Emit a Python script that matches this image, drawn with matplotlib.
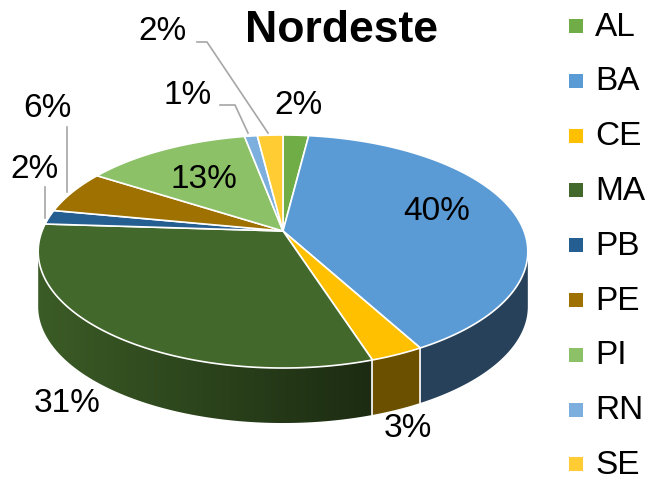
import numpy as np
import matplotlib
matplotlib.use("Agg")
import matplotlib.pyplot as plt
from matplotlib.patches import Polygon, Rectangle
from matplotlib.colors import to_rgb

# ---- data ----
categories = ["AL", "BA", "CE", "MA", "PB", "PE", "PI", "RN", "SE"]
values = [2, 40, 3, 31, 2, 6, 13, 1, 2]
colors = ["#70ad47", "#5b9bd5", "#ffc000", "#43682b", "#255e91",
          "#9e7100", "#8cc168", "#7cafdd", "#ffcd33"]
title = "Nordeste"

plt.rcParams['font.family'] = ['Liberation Sans', 'DejaVu Sans']

fig = plt.figure(figsize=(6.5, 4.86), dpi=100)
ax = fig.add_axes([0, 0, 1, 1])
ax.set_xlim(0, 650)
ax.set_ylim(486, 0)
ax.axis('off')

# ---- 3D pie geometry (perspective projection of a disk) ----
cx, cy = 283, 231
A, B, k = 241, 112.9, 0.176
D = 55

def proj(theta_deg):
    t = np.radians(theta_deg)
    u, v = np.sin(t), np.cos(t)
    w = 1 + k * v
    return cx + A * u / w, cy - B * v / w

vals = np.array(values, dtype=float)
cum = np.concatenate([[0], np.cumsum(vals)]) / vals.sum() * 360.0
vis_lo = np.degrees(np.arccos(-k))
vis_hi = 360 - vis_lo

def shade(x):
    return np.interp(x, [40, 370], [0.88, 0.42])

# sides with horizontal gradient
for i, c in enumerate(colors):
    a0, a1 = max(cum[i], vis_lo), min(cum[i + 1], vis_hi)
    if a1 <= a0:
        continue
    ts = np.linspace(a0, a1, max(3, int((a1 - a0) * 3)))
    top = [proj(t) for t in ts]
    bot = [(x, y + D) for x, y in top[::-1]]
    poly = Polygon(top + bot, closed=True, facecolor="none", edgecolor="none")
    ax.add_patch(poly)
    xs = np.array([p[0] for p in top])
    ys = np.array([p[1] for p in top])
    x_lo, x_hi = xs.min() - 2, xs.max() + 2
    y_lo, y_hi = ys.min() - 2, ys.max() + D + 2
    gx = np.linspace(x_lo, x_hi, 200)
    base = np.array(to_rgb(c))
    img = (shade(gx)[:, None] * base[None, :])[None, :, :]
    im = ax.imshow(img, extent=(x_lo, x_hi, y_hi, y_lo), aspect="auto",
                   interpolation="bilinear", zorder=1)
    im.set_clip_path(poly)
ax.set_xlim(0, 650)
ax.set_ylim(486, 0)

# side boundaries
for a in cum:
    if vis_lo < a < vis_hi:
        x, y = proj(a)
        ax.plot([x, x], [y, y + D], color="white", lw=1.2, zorder=2)

# top faces
for i, c in enumerate(colors):
    ts = np.linspace(cum[i], cum[i + 1], max(3, int((cum[i + 1] - cum[i]) * 2)))
    pts = [(cx, cy)] + [proj(t) for t in ts]
    ax.add_patch(Polygon(pts, closed=True, facecolor=c, edgecolor="white",
                         lw=1.2, zorder=3))

# ---- data labels ----
label_pos = [(299, 105), (437, 211), (408, 428), (67, 403), (35, 169),
             (47, 108), (204, 179), (188, 95), (163, 32)]
for v, (x, y) in zip(values, label_pos):
    ax.text(x, y, f"{v}%", fontsize=24, ha="center", va="center",
            color="black", zorder=5)

# leader lines
leaders = [
    [(45, 187), (45, 218)],
    [(67, 127), (67, 192)],
    [(220, 105), (235, 105), (248, 133)],
    [(197, 42), (207, 42), (268, 133)],
]
for ln in leaders:
    xs, ys = zip(*ln)
    ax.plot(xs, ys, color="#a6a6a6", lw=1.2, zorder=4)

ax.text(341, 30, title, fontsize=32, fontweight="bold", ha="center",
        va="center", zorder=5)

# ---- legend ----
for i, (cat, c) in enumerate(zip(categories, colors)):
    y = 26 + i * 54.8
    ax.add_patch(Rectangle((569, y - 7), 14, 14, facecolor=c, edgecolor="none"))
    ax.text(595, y + 1, cat, fontsize=24, ha="left", va="center")

fig.savefig("out.png", dpi=100)
